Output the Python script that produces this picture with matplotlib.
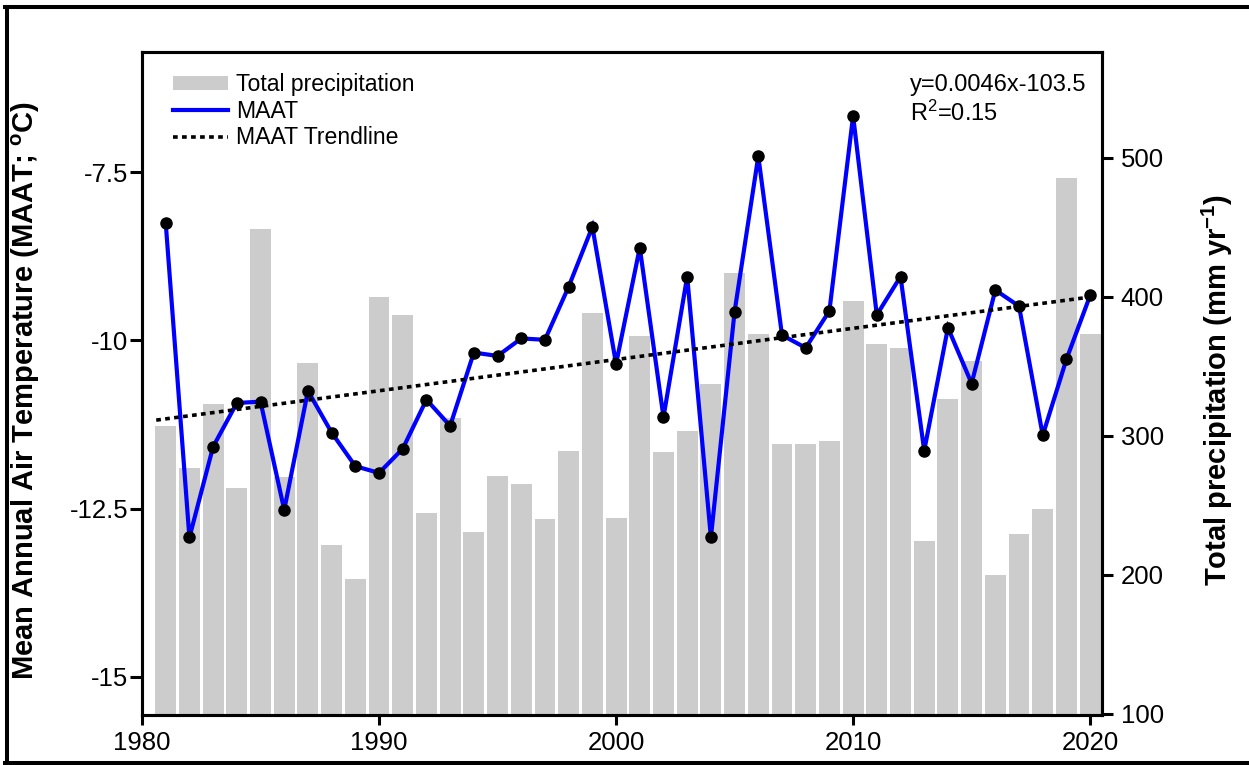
import numpy as np
import matplotlib
matplotlib.use('Agg')
import matplotlib.pyplot as plt
from matplotlib.lines import Line2D
from matplotlib.patches import Patch

# ---------------- data ----------------
years = list(range(1981, 2021))
maat = [-8.25, -12.93, -11.58, -10.93, -10.91, -12.52, -10.75, -11.37, -11.87, -11.97,
        -11.61, -10.88, -11.27, -10.18, -10.23, -9.97, -9.99, -9.20, -8.31, -10.35,
        -8.62, -11.14, -9.05, -12.93, -9.57, -7.26, -9.92, -10.11, -9.56, -6.66,
        -9.62, -9.05, -11.64, -9.81, -10.64, -9.25, -9.49, -11.41, -10.28, -9.33]
precip = [307, 277, 323, 262, 449, 270, 352, 221, 197, 400,
          387, 244, 313, 231, 271, 265, 240, 289, 388, 241,
          372, 288, 303, 337, 417, 373, 294, 294, 296, 397,
          366, 363, 224, 326, 354, 200, 229, 247, 485, 373]
x_ticks = [1980, 1990, 2000, 2010, 2020]
left_ticks = [-15, -12.5, -10, -7.5]
left_tick_labels = ['-15', '-12.5', '-10', '-7.5']
right_ticks = [100, 200, 300, 400, 500]
legend_labels = ['Total precipitation', 'MAAT', 'MAAT Trendline']
eq_text = 'y=0.0046x-103.5'
r2_text = 'R$^2$=0.15'

# ---------------- style ----------------
plt.rcParams['font.family'] = ['Liberation Sans', 'DejaVu Sans']
plt.rcParams['mathtext.fontset'] = 'custom'
plt.rcParams['mathtext.rm'] = 'Liberation Sans'
plt.rcParams['mathtext.it'] = 'Liberation Sans:italic'
plt.rcParams['mathtext.bf'] = 'Liberation Sans:bold'
plt.rcParams['axes.unicode_minus'] = False

W, H = 1249, 765
fig = plt.figure(figsize=(W / 100, H / 100), dpi=100)
ax = fig.add_axes([142 / W, 1 - 715 / H, 960 / W, 663 / H])
ax2 = ax.twinx()

bar_color = '#cccccc'
line_color = '#0000ff'
trend_style = (0, (1.3, 1.2))

ax2.bar(years, precip, width=0.88, color=bar_color, zorder=1)
ax.set_zorder(ax2.get_zorder() + 1)
ax.patch.set_visible(False)

ax.plot(years, maat, color=line_color, lw=3.0, zorder=3, solid_joinstyle='miter')
coef = np.polyfit(years, maat, 1)
tx = np.array([1980.6, 2020.0])
ax.plot(tx, np.polyval(coef, tx), color='black', lw=2.6,
        linestyle=trend_style, zorder=4)
ax.plot(years, maat, 'o', color='black', ms=8, zorder=5)

# axes limits / ticks
ax.set_xlim(1980, 2020.5)
ax.set_ylim(-15.57, -5.71)
ax2.set_ylim(99, 576)

ax.set_xticks(x_ticks)
ax.set_xticklabels([str(t) for t in x_ticks])
ax.set_yticks(left_ticks)
ax.set_yticklabels(left_tick_labels)
ax2.set_yticks(right_ticks)
ax2.set_yticklabels([str(t) for t in right_ticks])

for a in (ax, ax2):
    for s in a.spines.values():
        s.set_linewidth(2.2)
ax.tick_params(axis='x', length=7.5, width=2.2, labelsize=18.5, pad=4, direction='out')
ax.tick_params(axis='y', length=8.5, width=2.2, labelsize=18.5, pad=1.5, direction='out')
ax2.tick_params(axis='y', length=8, width=2.2, labelsize=18.5, pad=5.5, direction='out')

ax.set_ylabel('Mean Annual Air Temperature (MAAT; $^{\\mathbf{o}}$C)',
              fontsize=21, fontweight='bold')
ax.yaxis.set_label_coords((42 - 142) / 960, 0.49)
ax2.set_ylabel('Total precipitation (mm yr$^{\\mathbf{-1}}$)',
               fontsize=21, fontweight='bold', rotation=90)
ax2.yaxis.set_label_coords((1200 - 142) / 960, 0.49)

# legend
handles = [Patch(facecolor=bar_color, edgecolor='none'),
           Line2D([], [], color=line_color, lw=3.0),
           Line2D([], [], color='black', lw=2.6, linestyle=trend_style)]
ax.legend(handles, legend_labels, loc='upper left',
          bbox_to_anchor=((173 - 142) / 960, 1 - (73 - 52) / 663),
          frameon=False, fontsize=16.6, borderpad=0, borderaxespad=0,
          handlelength=2.4, handleheight=0.55, handletextpad=0.35,
          labelspacing=0.16)

# equation annotation
ax.text((910 - 142) / 960, 1 - (85 - 52) / 663, eq_text, transform=ax.transAxes,
        fontsize=17, ha='left', va='center')
ax.text((910 - 142) / 960, 1 - (113 - 52) / 663, r2_text, transform=ax.transAxes,
        fontsize=17, ha='left', va='center')

# outer frame lines of the screenshot
lw_frame = 2.9
fig.add_artist(Line2D([7 / W, 7 / W], [1 - 7 / H, 1 - 763 / H], color='black',
                      lw=lw_frame, transform=fig.transFigure))
fig.add_artist(Line2D([5 / W, 1143 / W], [1 - 7 / H, 1 - 7 / H], color='black',
                      lw=lw_frame, transform=fig.transFigure))
fig.add_artist(Line2D([1147 / W, 1.0], [1 - 7 / H, 1 - 7 / H], color='black',
                      lw=lw_frame, transform=fig.transFigure))
fig.add_artist(Line2D([5 / W, 1.0], [1 - 763 / H, 1 - 763 / H], color='black',
                      lw=lw_frame, transform=fig.transFigure))

fig.savefig('out.png', dpi=100)
